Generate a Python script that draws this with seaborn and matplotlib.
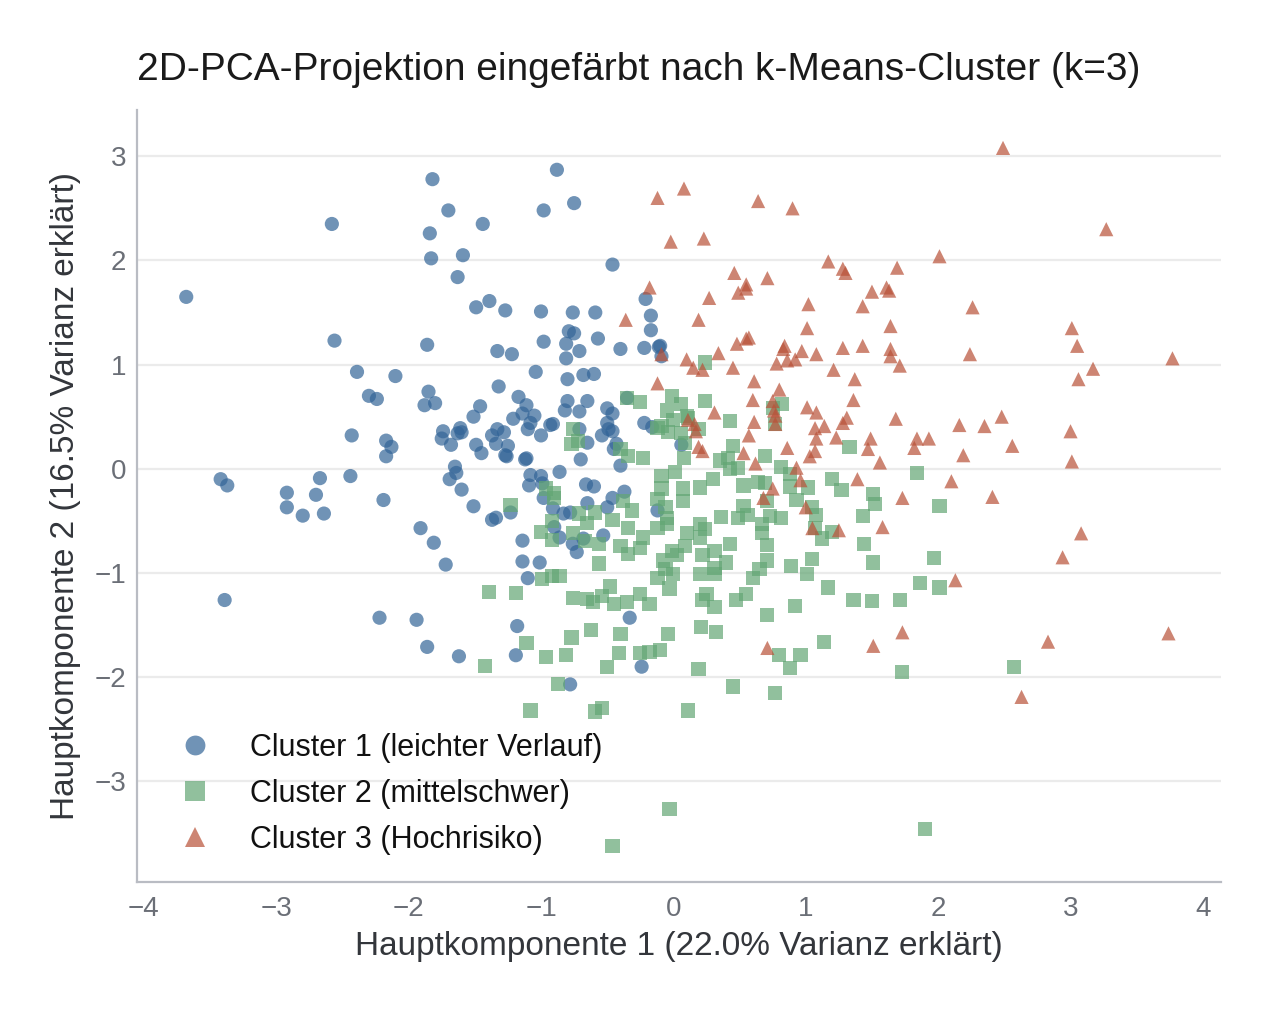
import numpy as np
import pandas as pd
import matplotlib
matplotlib.use("Agg")
import matplotlib.pyplot as plt
import seaborn as sns

# ------------------------------------------------------------
# Data
# ------------------------------------------------------------

cluster_names = [
    "Cluster 1 (leichter Verlauf)",
    "Cluster 2 (mittelschwer)",
    "Cluster 3 (Hochrisiko)",
]

c1_x = [-3.68, -2.58, -1.82, -1.70, -1.84, -1.59, -1.83, -1.63, -1.44, -0.88, -0.98, -0.75, -0.46, -0.21, -0.17,
        -0.17, -0.11, -0.40, -2.56, -2.39, -2.30, -2.24, -2.10, -1.86, -1.85, -1.88, -1.80, -2.43, -2.17, -2.13,
        -2.17, -2.44, -3.42, -3.37, -2.92, -2.67, -2.70, -2.92, -2.80, -2.64, -2.19, -3.39, -2.22, -1.94, -1.86,
        -1.62, -1.91, -1.81, -1.72, -1.19, -1.18, -0.78, -0.24, -0.33,
        -1.04, -0.80, -0.68, -0.60, -1.32, -1.46, -1.51, -1.17, -1.11, -1.21, -1.14, -1.08, -1.05, -1.10, -1.00,
        -0.93, -0.91, -0.80, -0.82, -0.71, -0.65, -0.50, -0.46, -0.50, -0.49, -0.46, -0.54, -0.43, -0.45, -0.35,
        -0.22, -0.16, 0.06, -0.71, -0.65, -0.70, -0.40,
        -1.74, -1.75, -1.68, -1.61, -1.60, -1.63, -1.49, -1.45, -1.37, -1.33, -1.28, -1.34, -1.25, -1.27, -1.26,
        -1.12, -1.11, -1.65, -1.64, -1.69, -1.60, -1.51, -1.37, -1.34, -1.23, -1.08, -1.00, -1.09, -0.99, -0.86,
        -0.98, -0.91, -0.83, -0.78, -0.90, -0.86, -0.66, -0.60, -0.65, -0.50, -0.46, -0.37, -0.53, -0.76, -0.73,
        -0.68, -1.14, -1.14, -1.01, -1.10, -0.12,
        -1.49, -1.39, -1.27, -1.00, -0.76, -0.59, -0.79, -0.75, -0.98, -0.81, -0.71, -0.81, -0.57, -0.22, -0.10,
        -0.09, -1.33, -1.22]
c1_y = [1.65, 2.35, 2.78, 2.48, 2.26, 2.05, 2.02, 1.84, 2.35, 2.87, 2.48, 2.55, 1.96, 1.63, 1.47,
        1.33, 1.17, 1.15, 1.23, 0.93, 0.70, 0.67, 0.89, 1.19, 0.74, 0.61, 0.63, 0.32, 0.27, 0.21,
        0.12, -0.07, -0.10, -0.16, -0.23, -0.09, -0.25, -0.37, -0.45, -0.43, -0.30, -1.26, -1.43, -1.45, -1.71,
        -1.80, -0.57, -0.71, -0.92, -1.79, -1.51, -2.07, -1.90, -1.43,
        0.93, 0.86, 0.90, 0.91, 0.79, 0.60, 0.50, 0.69, 0.61, 0.48, 0.53, 0.44, 0.51, 0.38, 0.32,
        0.42, 0.43, 0.65, 0.56, 0.55, 0.65, 0.58, 0.53, 0.44, 0.38, 0.36, 0.32, 0.24, 0.19, 0.68,
        0.44, 0.40, 0.23, 0.38, 0.25, 0.09, 0.03,
        0.36, 0.29, 0.23, 0.39, 0.35, 0.34, 0.23, 0.15, 0.32, 0.38, 0.35, 0.24, 0.22, 0.13, 0.12,
        0.09, 0.10, 0.02, -0.04, -0.10, -0.20, -0.36, -0.49, -0.47, -0.42, -0.06, -0.07, -0.16, -0.14, -0.03,
        -0.28, -0.38, -0.43, -0.42, -0.56, -0.66, -0.15, -0.17, -0.33, -0.37, -0.28, -0.22, -0.64, -0.72, -0.80,
        -0.67, -0.69, -0.89, -0.90, -1.05, -0.40,
        1.55, 1.61, 1.52, 1.51, 1.50, 1.50, 1.32, 1.30, 1.22, 1.20, 1.13, 1.06, 1.25, 1.16, 1.18,
        1.08, 1.13, 1.10]

c2_x = [-0.35, -0.25, -0.01, 0.06, -0.05, 0.00, 0.10, -0.09, -0.12, -0.04, 0.06, 0.09, -0.76, -0.72, -0.77,
        -0.40, -0.34, -0.23, -0.09, 0.01, -0.09, -0.12, 0.07, 0.07, -0.06, -0.05, -0.12, -0.05, -0.96, -0.90,
        -0.90, -1.23, -0.92, -1.00, -0.92, -0.76, -0.71, -0.65, -0.59, -0.67, -0.56, -0.46, -0.38, -0.31, -0.34,
        -0.40, -0.34, -0.25, -0.23, -0.56, -0.01, 0.03, -0.08, -0.06, -0.99, -0.92, -0.86, -1.39, -1.19, -0.76,
        -0.65, -0.61, -0.54, -0.48, -0.45, -0.35, -0.25, -0.18, -0.12, 0.00, -0.03, 0.08,
        0.24, 0.24, 0.11, 0.19, 0.43, 0.82, 0.75, 0.77, 0.45, 0.41, 0.35, 0.43, 0.49, 0.69, 0.81,
        0.88, 1.33, 0.30, 0.20, 0.53, 0.64, 0.69, 0.88, 1.02, 1.20, 1.27, 1.51, 1.52, 1.84, 0.93,
        0.71, 0.53, 0.56, 0.49, 1.05, 1.08, 1.07, 0.81, 0.73, 0.36, 0.20, 0.24, 0.20, 0.10, 0.09,
        0.67, 0.67, 0.71, 1.12, 1.20, 1.43, 1.44, 0.43, 0.31, 0.22, 0.40, 0.31, 0.71, 0.65, 0.60,
        0.89, 1.05, 1.01, 1.51, 1.97, 0.20, 0.31, 1.17, 0.25, 0.22, 0.31, 0.55, 0.47, 0.92, 0.71,
        1.36, 1.50, 1.71, 1.86, 2.01, 2.01,
        0.21, 0.32, 0.80, 0.96, 0.88, 1.14, 0.19, 0.45, 0.77, 0.11, 1.73, 1.90, 2.57,
        -1.11, -1.42, -0.96, -0.81, -0.77, -0.62, -0.40, -0.41, -0.50, -0.25, -0.18, -0.10, -0.04, -0.87, -1.08,
        -0.59, -0.54, -0.03, -0.46]
c2_y = [0.68, 0.64, 0.70, 0.62, 0.56, 0.47, 0.51, 0.41, 0.39, 0.35, 0.34, 0.25, 0.38, 0.27, 0.24,
        0.19, 0.12, 0.10, -0.07, -0.03, -0.19, -0.29, -0.19, -0.31, -0.37, -0.47, -0.57, -0.53, -0.19, -0.23,
        -0.28, -0.35, -0.50, -0.61, -0.68, -0.62, -0.43, -0.52, -0.42, -0.69, -0.72, -0.49, -0.31, -0.40, -0.57,
        -0.74, -0.82, -0.76, -0.66, -0.91, -0.79, -0.83, -0.88, -0.96, -1.06, -1.03, -1.03, -1.18, -1.19, -1.24,
        -1.25, -1.28, -1.22, -1.13, -1.30, -1.28, -1.20, -1.30, -1.05, -1.01, -1.15, 0.10,
        1.02, 0.65, 0.49, 0.38, 0.46, 0.62, 0.58, 0.43, 0.22, 0.10, 0.08, 0.00, 0.01, 0.12, 0.02,
        -0.05, 0.21, -0.10, -0.18, -0.16, -0.13, -0.14, -0.17, -0.18, -0.10, -0.20, -0.24, -0.34, -0.04, -0.30,
        -0.31, -0.36, -0.44, -0.47, -0.37, -0.44, -0.57, -0.47, -0.45, -0.46, -0.53, -0.58, -0.66, -0.62, -0.74,
        -0.53, -0.62, -0.73, -0.67, -0.61, -0.45, -0.72, -0.72, -0.79, -0.83, -0.90, -0.95, -0.88, -0.96, -1.05,
        -0.93, -0.87, -1.01, -0.90, -0.86, -1.01, -1.01, -1.14, -1.20, -1.26, -1.33, -1.20, -1.26, -1.32, -1.40,
        -1.26, -1.27, -1.26, -1.10, -1.14, -0.36,
        -1.52, -1.57, -1.79, -1.79, -1.91, -1.66, -1.92, -2.09, -2.15, -2.32, -1.95, -3.46, -1.90,
        -1.67, -1.89, -1.81, -1.79, -1.62, -1.55, -1.59, -1.77, -1.90, -1.77, -1.76, -1.74, -1.59, -2.07, -2.32,
        -2.33, -2.30, -3.27, -3.62]

c3_x = [0.08, 0.64, 0.90, 0.23, 1.17, 1.28, 1.30, 1.69, 2.01, 0.46, 0.55, 0.55, 0.49, 0.71, 0.27,
        1.50, 1.61, 1.63, 1.43, 1.02, 0.19, 1.01, 1.64, 0.48, 0.55, 0.57, 0.34, 0.84, 0.83, 0.97,
        1.08, 1.28, 1.43, 1.64, 1.64, 1.71, 0.10, 0.15, 0.22, 0.45, 0.78, 0.86, 0.92, 1.21,
        -0.12, -0.02, -0.18, -0.36, -0.09,
        2.49, 3.27, 2.26, 3.01, 3.05, 2.24, 3.77, 3.17,
        3.06, 2.16, 2.35, 2.48, 3.00, 2.19, 2.56, 3.01, 2.10, 2.41, 3.08, 2.94, 2.13,
        2.83, 3.74, 2.63, 0.71, 1.51, 1.73,
        1.37, 0.61, 0.80, 0.60, 0.75, 0.31, 0.11, 0.16, 0.17, 0.61, 0.57, 0.76, 0.77, 0.77, 1.01,
        1.08, 1.14, 1.07, 1.08, 1.23, 1.28, 1.31, 1.36, 1.68, 1.49, 1.47, 1.84, 1.93, 1.82, 0.86,
        1.07, 1.03, 0.53, 0.19, 0.22, 0.62, 0.93, 0.96, 1.56, 1.39, 0.75, 0.68, 1.00, 1.73, 1.05,
        1.25, 1.58, -0.12]
c3_y = [2.69, 2.57, 2.50, 2.21, 1.99, 1.92, 1.88, 1.93, 2.04, 1.88, 1.77, 1.73, 1.69, 1.83, 1.64,
        1.70, 1.74, 1.71, 1.56, 1.58, 1.43, 1.35, 1.37, 1.20, 1.25, 1.26, 1.11, 1.18, 1.15, 1.13,
        1.10, 1.16, 1.18, 1.15, 1.08, 0.99, 1.05, 0.97, 0.95, 0.97, 1.01, 1.04, 1.05, 0.95,
        2.60, 2.18, 1.74, 1.43, 1.10,
        3.08, 2.30, 1.55, 1.35, 1.18, 1.10, 1.06, 0.96,
        0.86, 0.42, 0.41, 0.50, 0.36, 0.13, 0.22, 0.07, -0.12, -0.27, -0.62, -0.85, -1.07,
        -1.66, -1.58, -2.19, -1.72, -1.70, -1.57,
        0.86, 0.84, 0.76, 0.66, 0.65, 0.54, 0.47, 0.43, 0.36, 0.45, 0.32, 0.56, 0.51, 0.43, 0.59,
        0.54, 0.41, 0.39, 0.29, 0.30, 0.44, 0.49, 0.66, 0.48, 0.29, 0.19, 0.29, 0.29, 0.20, 0.20,
        0.17, 0.12, 0.15, 0.21, 0.17, 0.05, 0.01, -0.11, 0.06, -0.10, -0.19, -0.28, -0.37, -0.28, -0.57,
        -0.59, -0.56, 0.82]

x_ticks = [-4, -3, -2, -1, 0, 1, 2, 3, 4]
y_ticks = [-3, -2, -1, 0, 1, 2, 3]

# ------------------------------------------------------------
# Build DataFrame
# ------------------------------------------------------------

df = pd.concat([
    pd.DataFrame({"pc1": c1_x, "pc2": c1_y, "cluster": cluster_names[0]}),
    pd.DataFrame({"pc1": c2_x, "pc2": c2_y, "cluster": cluster_names[1]}),
    pd.DataFrame({"pc1": c3_x, "pc2": c3_y, "cluster": cluster_names[2]}),
], ignore_index=True)

palette = {
    cluster_names[0]: "#336598",
    cluster_names[1]: "#62A674",
    cluster_names[2]: "#B95138",
}
markers = {
    cluster_names[0]: "o",
    cluster_names[1]: "s",
    cluster_names[2]: "^",
}

# ------------------------------------------------------------
# Plot
# ------------------------------------------------------------

sns.set_style("white")
plt.rcParams["font.family"] = ["Liberation Sans", "DejaVu Sans"]

fig, ax = plt.subplots(figsize=(6.355, 5.065), dpi=200)
fig.subplots_adjust(left=0.108, right=0.961, top=0.891, bottom=0.129)

sns.scatterplot(
    data=df,
    x="pc1",
    y="pc2",
    hue="cluster",
    style="cluster",
    palette=palette,
    markers=markers,
    s=26,
    alpha=0.7,
    linewidth=0,
    ax=ax
)

ax.set_xlim(-4.05, 4.14)
ax.set_ylim(-3.97, 3.44)
ax.set_xticks(x_ticks)
ax.set_yticks(y_ticks)
ax.set_xticklabels([f"{t}".replace("-", "\u2212") for t in x_ticks])
ax.set_yticklabels([f"{t}".replace("-", "\u2212") for t in y_ticks])

ax.grid(axis="y", color="#ebebeb", linewidth=0.8)
ax.grid(axis="x", visible=False)
ax.set_axisbelow(True)

sns.despine(ax=ax)
for side in ["left", "bottom"]:
    ax.spines[side].set_color("#b9bcc3")
    ax.spines[side].set_linewidth(0.8)

ax.tick_params(axis="both", length=0, labelsize=10, colors="#6b6f77")
ax.tick_params(axis="x", pad=5)
ax.tick_params(axis="y", pad=4)

ax.set_xlabel("Hauptkomponente 1 (22.0% Varianz erklärt)", fontsize=12, color="#33363b", labelpad=3)
ax.set_ylabel("Hauptkomponente 2 (16.5% Varianz erklärt)", fontsize=12, color="#33363b", labelpad=5)
ax.set_title(
    "2D-PCA-Projektion eingefärbt nach k-Means-Cluster (k=3)",
    fontsize=14,
    color="#1a1a1a",
    loc="left",
    pad=11
)

sns.move_legend(
    ax,
    "lower left",
    title=None,
    frameon=False,
    fontsize=11,
    markerscale=1.4,
    bbox_to_anchor=(0.0, 0.0),
    labelspacing=0.52,
    handletextpad=0.8
)
for text in ax.get_legend().get_texts():
    text.set_color("#111111")

plt.savefig("out.png", dpi=200)
plt.close()
